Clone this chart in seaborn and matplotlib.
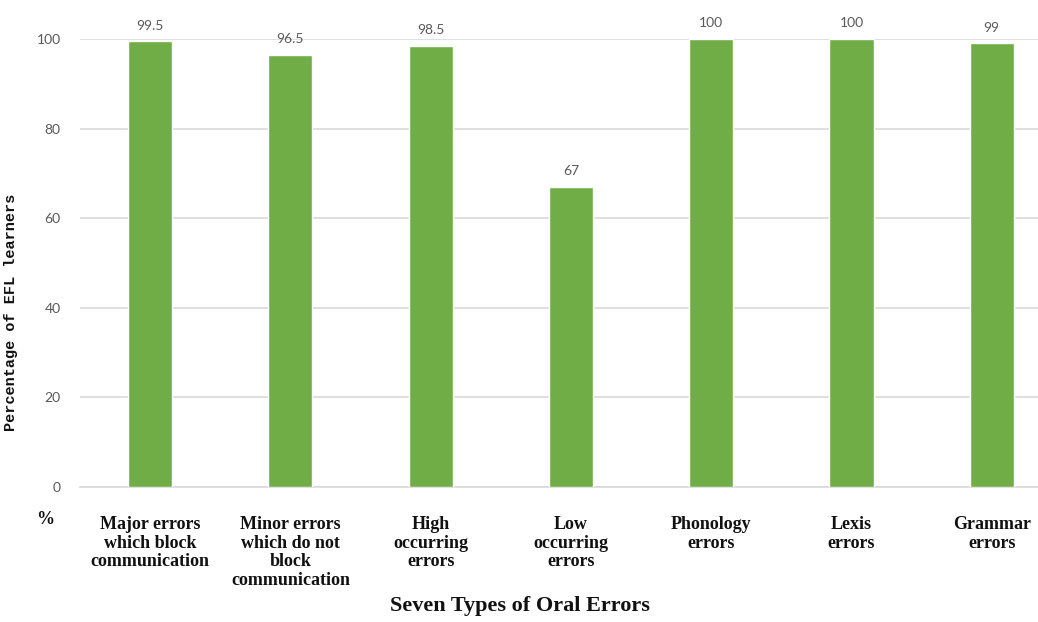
import matplotlib
matplotlib.use("Agg")
import matplotlib.pyplot as plt
import seaborn as sns
import pandas as pd

# Data
categories = [
    "Major errors\nwhich block\ncommunication",
    "Minor errors\nwhich do not\nblock\ncommunication",
    "High\noccurring\nerrors",
    "Low\noccurring\nerrors",
    "Phonology\nerrors",
    "Lexis\nerrors",
    "Grammar\nerrors",
]
values = [99.5, 96.5, 98.5, 67, 100, 100, 99]
y_ticks = [0, 20, 40, 60, 80, 100]

sns.set_style("white")

df = pd.DataFrame({"type": categories, "pct": values})

fig = plt.figure(figsize=(10.38, 6.22), dpi=100)
ax = fig.add_axes([80 / 1038, 135 / 622, 958 / 1038, 448 / 622])

sns.barplot(data=df, x="type", y="pct", color="#70AD47", saturation=1,
            width=0.315, ax=ax, zorder=3)

ax.set_ylim(0, 100)
ax.set_xlim(-0.5, 6.33)
ax.set_yticks(y_ticks)
ax.yaxis.grid(True, color="#d9d9d9", linewidth=1.2, zorder=0)
ax.xaxis.grid(False)
for side in ["top", "right", "left"]:
    ax.spines[side].set_visible(False)
ax.spines["bottom"].set_color("#d9d9d9")
ax.spines["bottom"].set_linewidth(1.2)
ax.tick_params(axis="both", length=0)
ax.tick_params(axis="y", pad=14, labelcolor="#595959")

for lbl in ax.get_yticklabels():
    lbl.set_fontfamily("Lato")
    lbl.set_fontsize(10)

ax.set_xticks(range(len(categories)))
ax.set_xticklabels(categories, fontfamily="Liberation Serif", fontweight="bold",
                   fontsize=13, linespacing=1.12, color="#111111")
ax.tick_params(axis="x", pad=21)

for cont in ax.containers:
    labels = ax.bar_label(cont, fmt="%g", padding=7, color="#595959",
                          fontsize=10, fontfamily="Lato")
    for t in labels:
        t.set_clip_on(False)

ax.set_xlabel("")
ax.set_ylabel("Percentage of EFL learners", fontfamily="Liberation Mono",
              fontweight="bold", fontsize=11, color="#111111")
ax.yaxis.set_label_coords(-62 / 958, 0.39)

fig.text(520 / 1038, 1 - 606 / 622, "Seven Types of Oral Errors",
         fontfamily="Liberation Serif", fontweight="bold", fontsize=16,
         ha="center", va="center", color="#111111")

fig.text(45 / 1038, 1 - 520 / 622, "%", fontfamily="Liberation Serif",
         fontweight="bold", fontsize=13, ha="center", va="center", color="#111111")

fig.savefig("out.png", dpi=100)
